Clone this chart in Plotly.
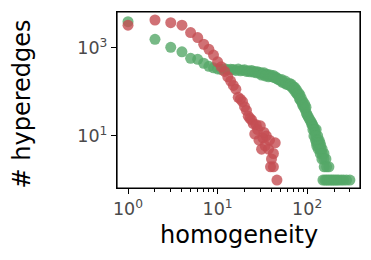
import plotly.graph_objects as go

# Green series (homogeneity, # hyperedges)
green_x = [1, 2, 3, 4, 5, 6, 7, 8, 9, 10, 11, 12, 13, 14, 15, 16, 17, 18, 19, 20,
           21, 22, 23, 24, 25, 26, 27, 28, 29, 30, 32, 33, 35, 36, 38, 39, 41, 43, 45, 47,
           49, 51, 53, 56, 58, 61, 64, 67, 70, 72, 74, 77, 79, 82, 84, 87, 89, 92, 95, 98,
           100, 103, 106, 109, 112, 113, 115, 118, 116, 121, 126, 123,
           119, 125, 131, 124, 130, 136, 127, 133, 139, 128, 135, 142,
           133, 140, 147, 140, 147, 154, 146, 154, 162, 155, 165, 175,
           150, 158, 165, 172, 180, 188, 196, 205, 215, 225, 240, 255, 275, 300,
           31, 34, 37, 42, 46, 52, 57, 63, 66, 69, 73, 76, 80, 83, 86, 90, 94, 97]
green_y = [3900, 1550, 1020, 810, 575, 545, 445, 380, 350, 330, 320, 335, 315, 325, 320, 305, 330, 300, 310, 315,
           290, 300, 285, 305, 280, 290, 270, 285, 265, 275, 255, 270, 245, 250, 230, 240, 220, 210, 215, 195,
           185, 180, 165, 160, 150, 145, 140, 130, 115, 120, 100, 90, 85, 70, 65, 58, 50, 45, 40, 33,
           30, 27, 24, 22, 20, 18, 18, 16, 14, 14, 14, 12,
           10, 10, 10, 8, 8, 8, 7, 7, 7, 6, 6, 6,
           5, 5, 5, 4, 4, 4, 3, 3, 3, 2, 2, 2,
           1, 1, 1, 1, 1, 1, 1, 1, 1, 1, 1, 1, 1, 1,
           240, 230, 220, 235, 200, 190, 175, 155, 150, 135, 125, 110, 95, 85, 72, 60, 52, 45]

# Red series
red_x = [1, 2, 3, 4, 5, 6, 7, 8, 9, 10, 11, 12, 13, 14, 15, 16, 17, 18, 19, 20,
         21, 22, 23, 24, 25, 26, 27, 28, 29, 30, 31, 32, 33, 34, 35, 37, 38, 39, 40, 42,
         42, 44, 46]
red_y = [3250, 4250, 3700, 3250, 2200, 1700, 1200, 920, 680, 480, 370, 290, 220, 175, 140, 115, 75, 68, 60, 46,
         38, 28, 25, 23, 19, 11, 18, 14, 8, 17, 5, 9, 12, 6, 10, 5, 8, 2, 3, 4,
         2, 7, 1]

x_tickvals = [1, 10, 100]
x_ticktext = ["10<sup>0</sup>", "10<sup>1</sup>", "10<sup>2</sup>"]
x_minorvals = [2, 3, 4, 5, 6, 7, 8, 9, 20, 30, 40, 50, 60, 70, 80, 90, 200, 300]
y_tickvals = [10, 1000]
y_ticktext = ["10<sup>1</sup>", "10<sup>3</sup>"]

x_title = "homogeneity"
y_title = "# hyperedges"

GREEN = "#55A868"
RED = "#C44E52"

fig = go.Figure()
fig.add_trace(go.Scatter(x=green_x, y=green_y, mode="markers",
                         marker=dict(color=GREEN, size=11, opacity=0.8, line=dict(width=0)),
                         showlegend=False, hoverinfo="skip"))
fig.add_trace(go.Scatter(x=red_x, y=red_y, mode="markers",
                         marker=dict(color=RED, size=11, opacity=0.8, line=dict(width=0)),
                         showlegend=False, hoverinfo="skip"))

axis_common = dict(
    type="log", showgrid=False, zeroline=False,
    showline=True, linecolor="black", linewidth=1.2, mirror=True,
    ticks="outside", ticklen=5, tickwidth=1, tickcolor="black",
    tickmode="array",
    tickfont=dict(family="DejaVu Sans", size=17.5, color="#4a4a4a"),
)

fig.update_xaxes(**axis_common, range=[-0.123, 2.59],
                 tickvals=x_tickvals, ticktext=x_ticktext,
                 minor=dict(tickmode="array", tickvals=x_minorvals, ticks="outside",
                            ticklen=3, tickwidth=0.8, tickcolor="black", showgrid=False))
fig.update_yaxes(**axis_common, range=[-0.18, 3.81],
                 tickvals=y_tickvals, ticktext=y_ticktext)

fig.update_layout(
    width=371, height=260,
    margin=dict(l=117, r=11, t=12, b=72, autoexpand=False),
    plot_bgcolor="white", paper_bgcolor="white",
    font=dict(family="DejaVu Sans"),
    shapes=[dict(type="rect", xref="paper", yref="paper", x0=0, y0=0, x1=1, y1=1,
                 line=dict(color="black", width=1.2), fillcolor="rgba(0,0,0,0)", layer="above")],
    annotations=[
        dict(text=x_title, xref="paper", yref="paper", x=0.5, y=-0.267,
             xanchor="center", yanchor="middle", showarrow=False,
             font=dict(size=24, color="black", family="DejaVu Sans")),
        dict(text=y_title, xref="paper", yref="paper", x=-0.391, y=0.48,
             xanchor="center", yanchor="middle", showarrow=False, textangle=-90,
             font=dict(size=24, color="black", family="DejaVu Sans")),
    ],
)

fig.write_html("out.html", config={"displayModeBar": False},
               post_script="document.body.style.margin='0';")
